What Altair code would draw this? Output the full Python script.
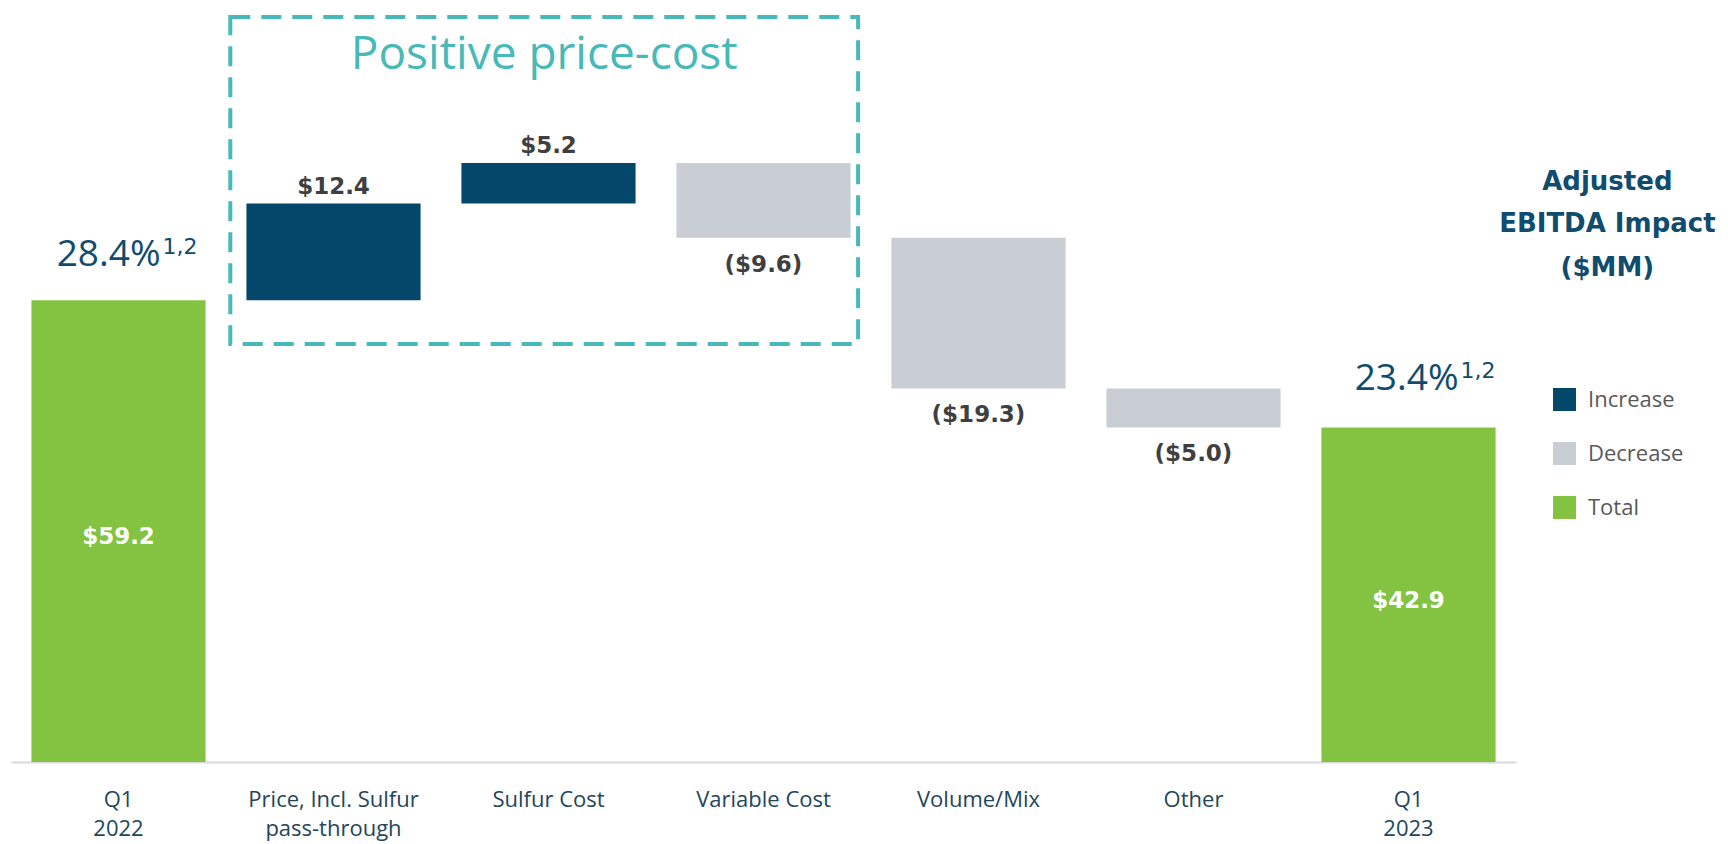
import altair as alt
import pandas as pd

# ---- data ----
categories = ["Q1\n2022", "Price, Incl. Sulfur\npass-through", "Sulfur Cost",
              "Variable Cost", "Volume/Mix", "Other", "Q1\n2023"]
amounts = [59.2, 12.4, 5.2, -9.6, -19.3, -5.0, 42.9]
kinds = ["Total", "Increase", "Increase", "Decrease", "Decrease", "Decrease", "Total"]
value_labels = ["$59.2", "$12.4", "$5.2", "($9.6)", "($19.3)", "($5.0)", "$42.9"]
margin_labels = ["28.4%", "", "", "", "", "", "23.4%"]
margin_notes = ["1,2", "", "", "", "", "", "1,2"]

legend_order = ["Increase", "Decrease", "Total"]
legend_colors = ["#05476a", "#c9ced4", "#83c341"]

# annotation texts (positions in band-index / value units)
box_x = [1.02, 3.94]
box_y = [53.6, 95.5]
box_title = "Positive price-cost"
box_title_y = 90.7
side_title = ["Adjusted", "EBITDA Impact", "($MM)"]
side_title_x = 7.425
side_title_y = [74.4, 69.0, 63.3]

# ---- build waterfall table ----
rows = []
running = 0.0
for c, a, k, vl, ml, mn in zip(categories, amounts, kinds, value_labels, margin_labels, margin_notes):
    if k == "Total":
        start, end = 0.0, a
        running = a
    else:
        start, end = running, running + a
        running = end
    rows.append(dict(cat=c, amount=a, kind=k, start=start, end=end,
                     top=max(start, end), bottom=min(start, end),
                     mid=(start + end) / 2, label=vl, margin=ml, note=mn))
df = pd.DataFrame(rows)

YMAX = 96.41
PLOT_W, PLOT_H = 1505, 752
yscale = alt.Scale(domain=[0, YMAX], nice=False, zero=True)


def xband():
    return alt.Scale(domain=categories, paddingInner=0.19, paddingOuter=0.095)


FONT = "Open Sans"
VFONT = "DejaVu Sans"
NAVY = "#0f4c6e"
TEAL = "#47b9b9"

base = alt.Chart(df)
xenc = alt.X("cat:N", sort=categories, scale=xband(), title=None,
             axis=alt.Axis(labelExpr="split(datum.label, '\\n')", labelAngle=0,
                           ticks=False, labelPadding=27, labelFontSize=22,
                           labelFont=FONT, labelColor="#24465a", labelLineHeight=29,
                           domainColor="#d9d9d9", domainWidth=2, grid=False))


def xplain():
    return alt.X("cat:N", sort=categories, scale=xband(), axis=None)


bars = base.mark_bar().encode(
    x=xenc,
    y=alt.Y("start:Q", scale=yscale, axis=None),
    y2="end:Q",
    color=alt.Color("kind:N",
                    scale=alt.Scale(domain=legend_order, range=legend_colors),
                    legend=alt.Legend(orient="none", legendX=1542, legendY=378,
                                      title=None, symbolType="square", symbolSize=529,
                                      symbolStrokeWidth=0, labelFontSize=22,
                                      labelFont=FONT, labelColor="#595959",
                                      rowPadding=31, labelOffset=12, padding=0)),
)

up_text = base.transform_filter("datum.kind == 'Increase'").mark_text(
    font=VFONT, fontWeight="bold", fontSize=23, color="#3f3f3f", baseline="middle", dy=-17
).encode(x=xplain(), y=alt.Y("top:Q", scale=yscale, axis=None), text="label:N")

down_text = base.transform_filter("datum.kind == 'Decrease'").mark_text(
    font=VFONT, fontWeight="bold", fontSize=23, color="#3f3f3f", baseline="middle", dy=27
).encode(x=xplain(), y=alt.Y("bottom:Q", scale=yscale, axis=None), text="label:N")

total_text = base.transform_filter("datum.kind == 'Total'").mark_text(
    font=VFONT, fontWeight="bold", fontSize=23, color="white", baseline="middle", dy=6
).encode(x=xplain(), y=alt.Y("mid:Q", scale=yscale, axis=None), text="label:N")

first_tot = categories[0]
last_tot = categories[-1]

pct_a = base.transform_filter(alt.datum.cat == first_tot).mark_text(
    font=FONT, fontSize=37, color=NAVY, align="right", baseline="middle", dx=42, dy=-45
).encode(x=xplain(), y=alt.Y("top:Q", scale=yscale, axis=None), text="margin:N")
note_a = base.transform_filter(alt.datum.cat == first_tot).mark_text(
    font=VFONT, fontSize=22, color=NAVY, align="left", baseline="middle", dx=44, dy=-53
).encode(x=xplain(), y=alt.Y("top:Q", scale=yscale, axis=None), text="note:N")

pct_b = base.transform_filter(alt.datum.cat == last_tot).mark_text(
    font=FONT, fontSize=37, color=NAVY, align="right", baseline="middle", dx=50, dy=-48
).encode(x=xplain(), y=alt.Y("top:Q", scale=yscale, axis=None), text="margin:N")
note_b = base.transform_filter(alt.datum.cat == last_tot).mark_text(
    font=VFONT, fontSize=22, color=NAVY, align="left", baseline="middle", dx=52, dy=-56
).encode(x=xplain(), y=alt.Y("top:Q", scale=yscale, axis=None), text="note:N")

# ---- annotation layers on a band-index linear x scale ----
xlin = alt.Scale(domain=[0, 7], nice=False, zero=False)
box_df = pd.DataFrame({"x0": [box_x[0]], "x1": [box_x[1]], "y0": [box_y[0]], "y1": [box_y[1]],
                       "xc": [(box_x[0] + box_x[1]) / 2], "yt": [box_title_y], "t": [box_title]})
box = alt.Chart(box_df).mark_rect(
    fillOpacity=0, stroke=TEAL, strokeWidth=4, strokeDash=[20, 11]
).encode(x=alt.X("x0:Q", scale=xlin, axis=None), x2="x1:Q",
         y=alt.Y("y0:Q", scale=yscale, axis=None), y2="y1:Q")
box_lbl = alt.Chart(box_df).mark_text(
    font=FONT, fontSize=46, color=TEAL, baseline="middle"
).encode(x=alt.X("xc:Q", scale=xlin, axis=None), y=alt.Y("yt:Q", scale=yscale, axis=None), text="t:N")

side_df = pd.DataFrame({"x": [side_title_x] * 3, "y": side_title_y, "t": side_title})
side = alt.Chart(side_df).mark_text(
    font=VFONT, fontSize=26, fontWeight="bold", color=NAVY, baseline="middle"
).encode(x=alt.X("x:Q", scale=xlin, axis=None), y=alt.Y("y:Q", scale=yscale, axis=None), text="t:N")

chart = alt.layer(bars, up_text, down_text, total_text, pct_a, note_a, pct_b, note_b,
                  box, box_lbl, side).resolve_scale(x="independent").properties(
    width=PLOT_W, height=PLOT_H, background="white",
    autosize=alt.AutoSizeParams(type="none"),
    padding={"left": 3, "top": 2, "right": 204, "bottom": 80},
).configure_view(stroke=None)

chart.save("out.html", embed_options={"renderer": "svg", "actions": False})
